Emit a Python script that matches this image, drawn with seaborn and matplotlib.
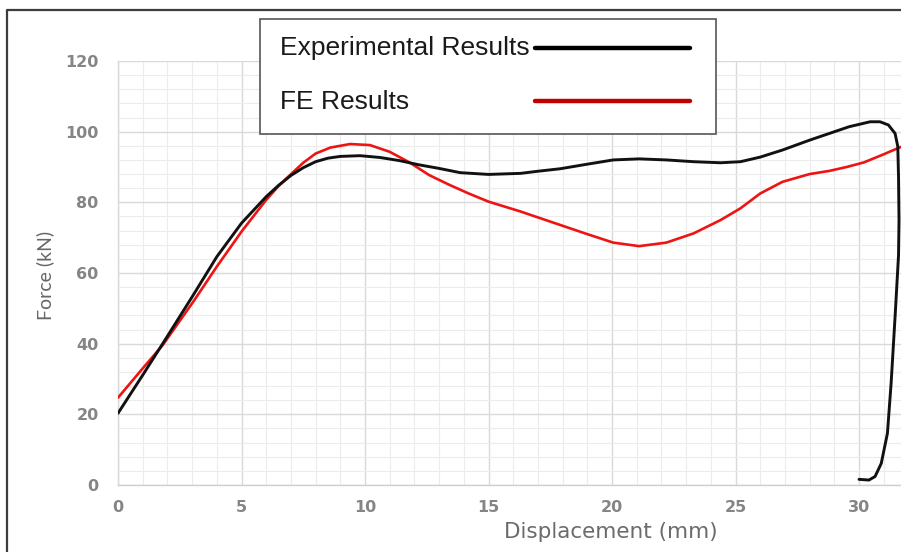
import matplotlib
matplotlib.use("Agg")
import matplotlib.pyplot as plt
import seaborn as sns
import pandas as pd
from matplotlib.lines import Line2D
from matplotlib.patches import Rectangle
from matplotlib.ticker import MultipleLocator

# ---- data ----
exp_x = [0, 1.0, 1.9, 3.05, 4.0, 5.0, 6.0, 6.5, 7.0, 7.5, 8.0, 8.5, 9.0, 9.8,
         10.6, 11.4, 12.2, 13.0, 13.85, 15.0, 16.3, 17.0, 17.9, 19.0, 20.05,
         21.1, 22.2, 23.3, 24.4, 25.2, 26.0, 26.9, 28.0, 28.8, 29.6, 30.45,
         30.85, 31.19, 31.46, 31.57, 31.6, 31.62, 31.6, 31.46, 31.3, 31.15,
         30.9, 30.65, 30.4, 30.0]
exp_y = [20.3, 31.1, 41.0, 53.8, 64.6, 74.1, 81.6, 84.8, 87.6, 89.8, 91.5,
         92.5, 93.0, 93.2, 92.7, 91.8, 90.6, 89.6, 88.4, 87.9, 88.2, 88.8,
         89.5, 90.8, 92.0, 92.3, 92.0, 91.5, 91.2, 91.5, 92.8, 94.8, 97.6,
         99.5, 101.4, 102.8, 102.8, 101.9, 99.5, 95.8, 87.3, 75.0, 65.0, 47.6,
         28.8, 14.6, 6.1, 2.4, 1.4, 1.6]

fe_x = [0, 1.0, 1.8, 3.05, 4.0, 5.0, 6.0, 6.5, 6.96, 7.5, 8.0, 8.6, 9.4, 10.2,
        11.0, 11.8, 12.6, 13.4, 14.2, 15.0, 16.3, 17.1, 17.9, 19.0, 20.05,
        21.1, 22.2, 23.3, 24.4, 25.2, 26.0, 26.9, 28.0, 28.8, 29.5, 30.2,
        31.0, 31.7]
fe_y = [24.7, 33.0, 39.5, 51.9, 61.8, 71.7, 80.7, 84.6, 87.7, 91.2, 93.8,
        95.5, 96.5, 96.2, 94.3, 91.3, 87.7, 85.0, 82.5, 80.2, 77.4, 75.5,
        73.6, 71.0, 68.6, 67.6, 68.6, 71.2, 75.0, 78.3, 82.5, 85.8, 88.0,
        88.9, 90.0, 91.3, 93.6, 95.7]

series_labels = ["Experimental Results", "FE Results"]
x_ticks = [0, 5, 10, 15, 20, 25, 30]
y_ticks = [0, 20, 40, 60, 80, 100, 120]

exp_df = pd.DataFrame({"disp": exp_x, "force": exp_y})
fe_df = pd.DataFrame({"disp": fe_x, "force": fe_y})

sns.set_theme(style="white")
plt.rcParams['font.family'] = ['DejaVu Sans']

W, H = 901, 552
fig = plt.figure(figsize=(W / 100, H / 100), dpi=100)
fig.patch.set_facecolor("white")
ax = fig.add_axes([118 / W, (H - 485) / H, (W - 118) / W, (485 - 61) / H])

sns.lineplot(data=fe_df, x="disp", y="force", sort=False, estimator=None,
             color="#ee1414", lw=1.9, ax=ax, legend=False, zorder=3,
             solid_joinstyle="round", solid_capstyle="round")
sns.lineplot(data=exp_df, x="disp", y="force", sort=False, estimator=None,
             color="#111111", lw=2.1, ax=ax, legend=False, zorder=4,
             solid_joinstyle="round", solid_capstyle="round")

ax.set_xlim(0, 31.7)
ax.set_ylim(0, 120)
ax.set_xticks(x_ticks)
ax.set_yticks(y_ticks)
ax.xaxis.set_minor_locator(MultipleLocator(1))
ax.yaxis.set_minor_locator(MultipleLocator(4))
ax.set_axisbelow(True)
ax.grid(which="major", color="#d9d9d9", lw=1.0)
ax.grid(which="minor", color="#ececec", lw=0.8)
for s in ["top", "right"]:
    ax.spines[s].set_visible(False)
ax.spines["left"].set_color("#d9d9d9")
ax.spines["left"].set_linewidth(1.0)
ax.spines["bottom"].set_color("#cfcfcf")
ax.spines["bottom"].set_linewidth(1.0)
ax.tick_params(which="both", length=0)
ax.tick_params(axis="x", labelsize=11.5, labelcolor="#858585", pad=11)
ax.tick_params(axis="y", labelsize=11.5, labelcolor="#858585", pad=14)
for lab in ax.get_xticklabels() + ax.get_yticklabels():
    lab.set_fontweight("bold")

ax.set_xlabel("Displacement (mm)", fontsize=15.5, color="#6b6b6b", va="center")
ax.xaxis.set_label_coords((611 - 118) / (W - 118), -(532 - 485) / (485 - 61))
ax.set_ylabel("Force (kN)", fontsize=14, color="#666666", family="Lato",
              va="center", ha="center")
ax.yaxis.set_label_coords((45 - 118) / (W - 118), (485 - 275) / (485 - 61))

# legend box drawn in figure pixels
def fx(px):
    return px / W

def fy(py):
    return 1 - py / H

box = Rectangle((fx(260), fy(134)), fx(716) - fx(260), fy(19) - fy(134),
                transform=fig.transFigure, facecolor="white",
                edgecolor="#555555", lw=1.2, zorder=10)
fig.add_artist(box)
fig.text(fx(280), fy(55), series_labels[0], fontsize=19,
         family="Liberation Sans", color="#1a1a1a", va="baseline", zorder=11)
fig.text(fx(280), fy(109), series_labels[1], fontsize=19,
         family="Liberation Sans", color="#1a1a1a", va="baseline", zorder=11)
fig.add_artist(Line2D([fx(535), fx(690)], [fy(47.5), fy(47.5)],
                      transform=fig.transFigure, color="#000000", lw=3.2,
                      zorder=11))
fig.add_artist(Line2D([fx(535), fx(690)], [fy(100.5), fy(100.5)],
                      transform=fig.transFigure, color="#c00000", lw=3.2,
                      zorder=11))

# outer frame (cropped on right and bottom)
fig.add_artist(Line2D([fx(7), fx(7), fx(901)], [fy(552), fy(10), fy(10)],
                      transform=fig.transFigure, color="#3c3c3c", lw=1.6,
                      zorder=12))

fig.savefig("out.png", dpi=100)
